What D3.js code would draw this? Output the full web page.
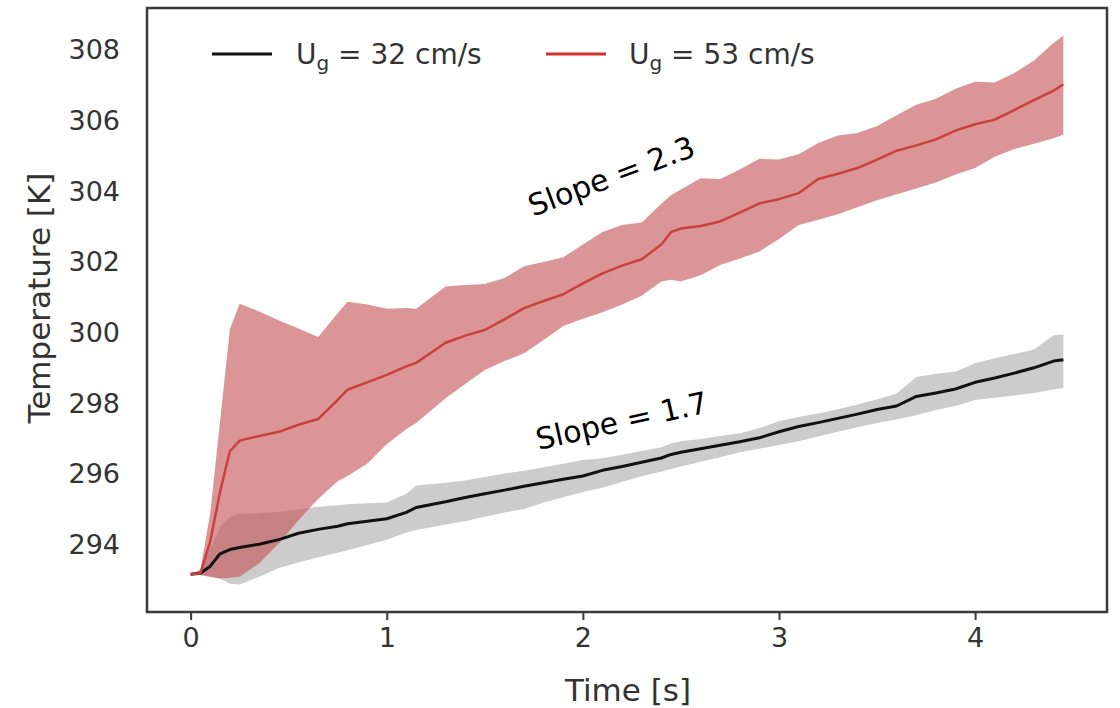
<!DOCTYPE html>
<html>
<head>
<meta charset="utf-8">
<script src="https://cdn.jsdelivr.net/npm/d3@7"></script>
<style>
  html, body { margin: 0; padding: 0; background: #fff; }
  svg { display: block; }
  text { font-family: "DejaVu Sans", sans-serif; }
</style>
</head>
<body>
<svg id="chart" width="1120" height="708"></svg>
<script>
// ---- data ----
const time = [0,0.05,0.1,0.15,0.2,0.25,0.35,0.45,0.55,0.65,0.75,0.8,0.9,1.0,1.1,1.15,1.3,1.4,1.5,1.6,1.7,1.8,1.9,2.0,2.1,2.2,2.3,2.4,2.45,2.5,2.6,2.7,2.8,2.9,3.0,3.1,3.2,3.3,3.4,3.5,3.6,3.7,3.8,3.9,4.0,4.1,4.2,4.3,4.4,4.45];

const mean53 = [293.17,293.2,294.1,295.5,296.65,296.95,297.08,297.2,297.4,297.56,298.1,298.39,298.6,298.81,299.05,299.15,299.72,299.92,300.08,300.38,300.7,300.9,301.09,301.4,301.68,301.9,302.08,302.5,302.85,302.95,303.02,303.15,303.4,303.66,303.78,303.95,304.35,304.5,304.66,304.9,305.15,305.3,305.47,305.72,305.9,306.03,306.3,306.58,306.85,307.03];
const upper53 = [293.17,293.3,294.9,297.5,300.1,300.82,300.6,300.35,300.12,299.88,300.55,300.88,300.8,300.68,300.7,300.68,301.31,301.35,301.38,301.55,301.88,302.0,302.14,302.5,302.85,303.05,303.12,303.65,303.9,304.05,304.37,304.35,304.62,304.92,304.9,305.05,305.37,305.58,305.65,305.85,306.15,306.45,306.62,306.9,307.1,307.08,307.35,307.7,308.2,308.41];
const lower53 = [293.17,293.15,293.1,293.05,293.07,293.1,293.48,294.05,294.7,295.3,295.8,295.95,296.3,296.85,297.28,297.45,298.15,298.55,298.95,299.2,299.42,299.8,300.19,300.4,300.58,300.8,301.05,301.45,301.5,301.45,301.63,301.92,302.1,302.3,302.65,303.05,303.2,303.35,303.55,303.75,303.92,304.08,304.25,304.48,304.66,304.98,305.2,305.35,305.5,305.6];

const mean32 = [293.17,293.2,293.4,293.75,293.87,293.93,294.02,294.15,294.33,294.44,294.53,294.6,294.67,294.74,294.92,295.06,295.22,295.34,295.45,295.55,295.66,295.76,295.86,295.95,296.11,296.22,296.34,296.46,296.56,296.62,296.72,296.82,296.92,297.03,297.2,297.35,297.46,297.58,297.7,297.83,297.93,298.2,298.3,298.41,298.6,298.72,298.86,299.01,299.2,299.24];
const upper32 = [293.17,293.3,293.9,294.5,294.8,294.88,294.9,294.94,295.0,295.08,295.12,295.15,295.18,295.2,295.45,295.68,295.76,295.82,295.92,296.02,296.1,296.2,296.3,296.4,296.45,296.55,296.66,296.76,296.87,296.93,297.0,297.08,297.16,297.3,297.5,297.62,297.72,297.84,297.97,298.12,298.28,298.75,298.84,298.9,299.14,299.28,299.4,299.53,299.93,299.95];
const lower32 = [293.17,293.15,293.1,293.05,292.9,292.88,293.1,293.35,293.5,293.65,293.78,293.85,294.0,294.15,294.35,294.42,294.58,294.67,294.8,294.92,295.02,295.2,295.35,295.5,295.62,295.78,295.94,296.08,296.15,296.22,296.35,296.48,296.62,296.72,296.83,296.93,297.07,297.2,297.33,297.45,297.55,297.67,297.82,297.93,298.1,298.16,298.23,298.3,298.4,298.44];

const xTicks = [0, 1, 2, 3, 4];
const yTicks = [294, 296, 298, 300, 302, 304, 306, 308];
const seriesNames = ["32", "53"];
const slopeLabels = ["Slope = 2.3", "Slope = 1.7"];

// ---- layout ----
const W = 1120, H = 708;
const m = { left: 147, right: 13, top: 8, bottom: 96 };
const pw = W - m.left - m.right, ph = H - m.top - m.bottom;

const svg = d3.select("#chart");

// 5% margins like matplotlib
const xExt = d3.extent(time);
const yAll = upper53.concat(lower53, upper32, lower32);
const yExt = d3.extent(yAll);
const xPad = (xExt[1] - xExt[0]) * 0.05, yPad = (yExt[1] - yExt[0]) * 0.05;

const x = d3.scaleLinear().domain([xExt[0] - xPad, xExt[1] + xPad]).range([m.left, m.left + pw]);
const y = d3.scaleLinear().domain([yExt[0] - yPad, yExt[1] + yPad]).range([m.top + ph, m.top]);

const idx = d3.range(time.length);
const area = (lo, hi) => d3.area().x(i => x(time[i])).y0(i => y(lo[i])).y1(i => y(hi[i]));
const line = (v) => d3.line().x(i => x(time[i])).y(i => y(v[i]));

const redLine = "#c8403f";
const redBand = "#c44e52";

// bands
svg.append("path").datum(idx).attr("d", area(lower32, upper32))
  .attr("fill", "#000").attr("fill-opacity", 0.2);
svg.append("path").datum(idx).attr("d", area(lower53, upper53))
  .attr("fill", redBand).attr("fill-opacity", 0.6);

// mean lines
svg.append("path").datum(idx).attr("d", line(mean32))
  .attr("fill", "none").attr("stroke", "#111").attr("stroke-width", 3).attr("stroke-linejoin", "round");
svg.append("path").datum(idx).attr("d", line(mean53))
  .attr("fill", "none").attr("stroke", redLine).attr("stroke-width", 2.5).attr("stroke-linejoin", "round");

// axes
const axisColor = "#3a3a3a";
const gx = svg.append("g").attr("transform", `translate(0,${m.top + ph})`)
  .call(d3.axisBottom(x).tickValues(xTicks).tickFormat(d3.format("d")).tickSize(8).tickPadding(8));
const gy = svg.append("g").attr("transform", `translate(${m.left},0)`)
  .call(d3.axisLeft(y).tickValues(yTicks).tickFormat(d3.format("d")).tickSize(0).tickPadding(27));
[gx, gy].forEach(g => {
  g.select(".domain").remove();
  g.selectAll(".tick line").attr("stroke", axisColor).attr("stroke-width", 2);
  g.selectAll(".tick text").attr("fill", "#333").attr("font-size", 27)
    .attr("font-family", "DejaVu Sans, sans-serif");
});

// frame
svg.append("rect").attr("x", m.left).attr("y", m.top).attr("width", pw).attr("height", ph)
  .attr("fill", "none").attr("stroke", axisColor).attr("stroke-width", 2.5);

// axis labels
svg.append("text").attr("x", x(2.23)).attr("y", 701).attr("text-anchor", "middle")
  .attr("font-size", 31).attr("fill", "#333").text("Time [s]");
svg.append("text").attr("transform", `translate(50,${(m.top + m.top + ph) / 2 - 12}) rotate(-90)`)
  .attr("text-anchor", "middle").attr("font-size", 31).attr("fill", "#333").text("Temperature [K]");

// legend
const legend = [
  { name: seriesNames[0], color: "#111", lx: 212, tx: 296 },
  { name: seriesNames[1], color: "#d03030", lx: 546, tx: 629 }
];
legend.forEach(l => {
  svg.append("line").attr("x1", l.lx).attr("x2", l.lx + 60).attr("y1", 54).attr("y2", 54)
    .attr("stroke", l.color).attr("stroke-width", 3);
  const t = svg.append("text").attr("x", l.tx).attr("y", 64).attr("font-size", 28).attr("fill", "#333");
  t.append("tspan").text("U");
  t.append("tspan").attr("font-size", 20).attr("dy", 6).text("g");
  t.append("tspan").attr("dy", -6).text(" = " + l.name + " cm/s");
});

// slope annotations
svg.append("text").attr("transform", "translate(615,186) rotate(-20.5)")
  .attr("text-anchor", "middle").attr("font-family", "Lato, sans-serif").attr("font-size", 30)
  .attr("fill", "#000").text(slopeLabels[0]);
svg.append("text").attr("transform", "translate(624,431) rotate(-12.5)")
  .attr("text-anchor", "middle").attr("font-family", "Lato, sans-serif").attr("font-size", 30)
  .attr("fill", "#000").text(slopeLabels[1]);
</script>
</body>
</html>
